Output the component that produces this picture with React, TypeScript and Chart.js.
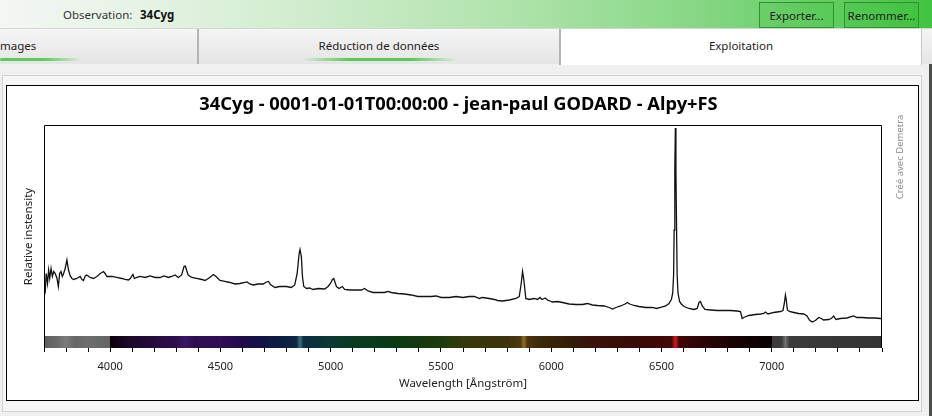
import React, { useEffect, useRef } from "react";
import { Chart, registerables } from "chart.js";

Chart.register(...registerables);

const FONT = '"Noto Sans", "Open Sans", sans-serif';

const TITLE = "34Cyg - 0001-01-01T00:00:00 - jean-paul GODARD - Alpy+FS";
const X_TITLE = "Wavelength [Ångström]";
const Y_TITLE = "Relative instensity";
const CREDIT = "Créé avec Demetra";

const X_MIN = 3700;
const X_MAX = 7500;
const X_STEP = 100;
const X_LABELS = [4000, 4500, 5000, 5500, 6000, 6500, 7000];
const Y_MIN = 0;
const Y_MAX = 4.46;

const WAVELENGTHS = [
  3700, 3706, 3710, 3716, 3721, 3726, 3732, 3738, 3744, 3751, 3759, 3765, 3771, 3777, 3783, 3789,
  3796, 3804, 3811, 3819, 3827, 3834, 3849, 3864, 3872, 3879, 3887, 3894, 3909, 3925, 3940, 3955,
  3970, 3977, 3985, 4008, 4030, 4053, 4068, 4083, 4091, 4103, 4110, 4121, 4136, 4158, 4181, 4204,
  4226, 4244, 4264, 4279, 4294, 4309, 4324, 4335, 4341, 4347, 4354, 4370, 4392, 4415, 4430, 4445,
  4460, 4468, 4480, 4498, 4520, 4543, 4566, 4588, 4611, 4621, 4633, 4649, 4671, 4694, 4709, 4718,
  4727, 4747, 4769, 4799, 4822, 4837, 4848, 4857, 4861, 4867, 4872, 4878, 4890, 4905, 4920, 4943,
  4973, 4988, 4999, 5008, 5014, 5020, 5026, 5038, 5053, 5063, 5086, 5116, 5139, 5154, 5169, 5192,
  5222, 5244, 5259, 5275, 5305, 5335, 5365, 5395, 5425, 5456, 5478, 5501, 5538, 5569, 5599, 5629,
  5652, 5674, 5689, 5719, 5742, 5757, 5780, 5810, 5840, 5855, 5864, 5870, 5876, 5885, 5900, 5923,
  5938, 5949, 5958, 5973, 5983, 6006, 6029, 6051, 6081, 6112, 6142, 6164, 6187, 6210, 6240, 6263,
  6278, 6293, 6315, 6335, 6345, 6356, 6376, 6398, 6428, 6459, 6477, 6496, 6519, 6534, 6545, 6551,
  6555, 6557.5, 6560.5, 6563, 6565.5, 6568.5, 6571, 6575, 6582, 6590, 6602, 6624, 6647, 6662, 6670, 6677,
  6685, 6697, 6723, 6753, 6783, 6813, 6843, 6858, 6866, 6873, 6896, 6926, 6949, 6964, 6971, 6983,
  7009, 7039, 7051, 7057, 7062, 7066, 7071, 7080, 7100, 7122, 7145, 7160, 7171, 7183, 7198, 7213,
  7225, 7235, 7258, 7270, 7281, 7291, 7311, 7341, 7371, 7386, 7409, 7439, 7469, 7492, 7500,
];

const INTENSITIES = [
  1.3, 1.16, 1.49, 1.29, 1.56, 1.39, 1.59, 1.43, 1.53, 1.49, 1.39, 1.23, 1.49, 1.53, 1.43, 1.49,
  1.59, 1.76, 1.56, 1.44, 1.39, 1.37, 1.39, 1.43, 1.37, 1.35, 1.44, 1.46, 1.41, 1.39, 1.43, 1.49,
  1.53, 1.49, 1.43, 1.43, 1.41, 1.39, 1.37, 1.36, 1.39, 1.47, 1.39, 1.41, 1.43, 1.41, 1.44, 1.41,
  1.41, 1.44, 1.41, 1.43, 1.46, 1.41, 1.46, 1.63, 1.64, 1.55, 1.46, 1.41, 1.39, 1.37, 1.35, 1.39,
  1.44, 1.47, 1.43, 1.35, 1.33, 1.31, 1.28, 1.29, 1.31, 1.32, 1.28, 1.26, 1.28, 1.28, 1.32, 1.33,
  1.27, 1.21, 1.23, 1.23, 1.21, 1.26, 1.49, 1.89, 1.97, 1.83, 1.43, 1.23, 1.19, 1.2, 1.17, 1.19,
  1.18, 1.23, 1.29, 1.37, 1.39, 1.31, 1.23, 1.19, 1.23, 1.17, 1.16, 1.16, 1.16, 1.19, 1.14, 1.11,
  1.11, 1.11, 1.13, 1.11, 1.09, 1.08, 1.06, 1.03, 1.03, 1.03, 1.04, 1.01, 1.01, 1.03, 1.01, 1.03,
  1.03, 0.99, 1.01, 0.99, 0.97, 0.95, 0.94, 0.96, 0.99, 1.03, 1.29, 1.53, 1.36, 0.99, 0.97, 0.99,
  0.97, 1.01, 0.97, 1.0, 0.96, 0.92, 0.93, 0.91, 0.88, 0.87, 0.87, 0.89, 0.86, 0.85, 0.84, 0.81,
  0.78, 0.81, 0.84, 0.88, 0.91, 0.88, 0.85, 0.83, 0.81, 0.81, 0.79, 0.81, 0.84, 0.89, 0.97, 1.1,
  1.46, 2.36, 3.56, 4.4, 3.56, 2.36, 1.46, 1.1, 0.93, 0.88, 0.83, 0.79, 0.77, 0.79, 0.91, 0.93,
  0.84, 0.77, 0.76, 0.75, 0.75, 0.75, 0.74, 0.73, 0.59, 0.61, 0.65, 0.67, 0.68, 0.69, 0.72, 0.68,
  0.71, 0.73, 0.75, 0.89, 1.06, 0.96, 0.76, 0.73, 0.71, 0.69, 0.68, 0.64, 0.56, 0.52, 0.55, 0.61,
  0.59, 0.56, 0.57, 0.59, 0.64, 0.57, 0.59, 0.6, 0.64, 0.61, 0.61, 0.6, 0.6, 0.59, 0.59,
];

// synthetic-spectrum colour strip under the plot
const BAR_WAVELENGTHS = [
  3700, 3760, 3800, 3840, 3900, 3999, 4000, 4100, 4300, 4340, 4380, 4500, 4600, 4700, 4800, 4845,
  4861, 4877, 4900, 5000, 5100, 5300, 5500, 5600, 5800, 5860, 5876, 5892, 5950, 6100, 6200, 6400,
  6545, 6563, 6581, 6700, 6850, 6999, 7000, 7045, 7062, 7080, 7200, 7500,
];
const BAR_COLORS = [
  "#5e5e5e", "#6a6a6a", "#7c7c7c", "#666666", "#6e6e6e", "#646464", "#0c000c", "#1c0a2c", "#2e0e4e",
  "#3c1666", "#2e0e50", "#300e58", "#220a4a", "#0f1448", "#0b2040", "#0c2a44", "#3a7282", "#0c2e42",
  "#0a3040", "#0a3836", "#093a22", "#0a3a12", "#1f3b0a", "#353a0a", "#3e3209", "#4a3a0e", "#8a7222",
  "#4a340c", "#3b2a09", "#361b08", "#3a1108", "#3a0908", "#420808", "#d81818", "#3e0606", "#2a0404",
  "#160202", "#060000", "#3a3a3a", "#3c3c3c", "#737373", "#3c3c3c", "#383838", "#343434",
];

const colorBarPlugin = {
  id: "colorBar",
  beforeDatasetsDraw(chart: any) {
    const { ctx, chartArea, scales } = chart;
    const x = scales.x;
    const x0 = x.getPixelForValue(X_MIN);
    const x1 = x.getPixelForValue(X_MAX);
    const g = ctx.createLinearGradient(x0, 0, x1, 0);
    BAR_WAVELENGTHS.forEach((w, i) => {
      const t = (x.getPixelForValue(w) - x0) / (x1 - x0);
      g.addColorStop(Math.min(1, Math.max(0, t)), BAR_COLORS[i]);
    });
    ctx.save();
    ctx.fillStyle = g;
    ctx.fillRect(chartArea.left, chartArea.bottom - 12, chartArea.right - chartArea.left, 12);
    ctx.restore();
  },
};

const framePlugin = {
  id: "frame",
  afterDraw(chart: any) {
    const { ctx, chartArea } = chart;
    const l = Math.round(chartArea.left) + 0.5;
    const t = Math.round(chartArea.top) + 0.5;
    const r = Math.round(chartArea.right) - 0.5;
    const b = Math.round(chartArea.bottom);
    ctx.save();
    ctx.strokeStyle = "#000";
    ctx.lineWidth = 1;
    ctx.beginPath();
    ctx.moveTo(l, b);
    ctx.lineTo(l, t);
    ctx.lineTo(r, t);
    ctx.lineTo(r, b);
    ctx.stroke();
    // credit text on the right margin
    ctx.translate(chartArea.right + 18, chartArea.top + 32);
    ctx.rotate(-Math.PI / 2);
    ctx.font = `9.5px ${FONT}`;
    ctx.fillStyle = "#8c8c8c";
    ctx.textAlign = "center";
    ctx.textBaseline = "middle";
    ctx.fillText(CREDIT, 0, 0);
    ctx.restore();
  },
};

function SpectrumChart() {
  const ref = useRef<HTMLCanvasElement | null>(null);
  useEffect(() => {
    const canvas = ref.current;
    if (!canvas) return;
    const chart = new Chart(canvas, {
      type: "line",
      data: {
        datasets: [
          {
            data: WAVELENGTHS.map((w, i) => ({ x: w, y: INTENSITIES[i] })),
            borderColor: "#111",
            borderWidth: 1.3,
            pointRadius: 0,
            tension: 0,
            fill: false,
          },
        ],
      },
      options: {
        animation: false,
        responsive: false,
        maintainAspectRatio: false,
        devicePixelRatio: 1,
        events: [],
        layout: { padding: 0, autoPadding: false },
        plugins: {
          legend: { display: false },
          tooltip: { enabled: false },
          title: {
            display: true,
            text: TITLE,
            color: "#000",
            font: { family: FONT, size: 18.3, weight: "bold", lineHeight: 1.2 },
            padding: { top: 8.0, bottom: 9.0 },
          },
        },
        scales: {
          x: {
            type: "linear",
            min: X_MIN,
            max: X_MAX,
            afterFit: (s: any) => {
              s.height = 52;
            },
            ticks: {
              stepSize: X_STEP,
              autoSkip: false,
              maxRotation: 0,
              minRotation: 0,
              padding: 8,
              color: "#222",
              font: { family: FONT, size: 11 },
              callback: (v: any) => (X_LABELS.includes(Number(v)) ? String(v) : ""),
            },
            grid: { drawOnChartArea: false, drawTicks: true, tickLength: 4, color: "#000", lineWidth: 1 },
            border: { display: false },
            title: {
              display: true,
              text: X_TITLE,
              color: "#222",
              font: { family: FONT, size: 11.5, lineHeight: 1.2 },
              padding: { top: 0, bottom: 9.5 },
            },
          },
          y: {
            type: "linear",
            min: Y_MIN,
            max: Y_MAX,
            afterFit: (s: any) => {
              s.width = 44;
            },
            ticks: { display: false },
            grid: { display: false },
            border: { display: false },
            title: {
              display: true,
              text: Y_TITLE,
              color: "#222",
              font: { family: FONT, size: 11.5, lineHeight: 1.2 },
              padding: { top: 21.6, bottom: 0 },
            },
          },
          y2: {
            type: "linear",
            position: "right",
            display: true,
            afterFit: (s: any) => {
              s.width = 35;
            },
            ticks: { display: false },
            grid: { display: false },
            border: { display: false },
          },
        },
      } as any,
      plugins: [colorBarPlugin, framePlugin],
    });
    return () => chart.destroy();
  }, []);
  return (
    <canvas
      ref={ref}
      width={917}
      height={314}
      style={{ position: "absolute", left: 0, top: 86, width: 917, height: 314 }}
    />
  );
}

const abs = (s: React.CSSProperties): React.CSSProperties => ({ position: "absolute", ...s });

export default function App() {
  return (
    <div
      style={abs({
        left: 0,
        top: 0,
        width: 932,
        height: 416,
        overflow: "hidden",
        background: "#f0f0f0",
        fontFamily: FONT,
        color: "#222",
      })}
    >
      {/* top observation bar */}
      <div
        style={abs({
          left: 0,
          top: 0,
          width: 932,
          height: 29,
          background:
            "linear-gradient(to right, #f4f6f4 0%, #e6f3e5 15%, #cdebca 35%, #afe3ab 55%, #86d784 75%, #5ecd5e 90%, #41c441 100%)",
          borderBottom: "1px solid #cfd9cf",
          boxSizing: "border-box",
        })}
      >
        <span style={abs({ left: 63, top: 7, fontSize: 11.5, color: "#333" })}>Observation:</span>
        <span style={abs({ left: 140, top: 7, fontSize: 11.5, fontWeight: "bold", color: "#111" })}>34Cyg</span>
        <div
          style={abs({
            left: 759,
            top: 2,
            width: 75,
            height: 26,
            boxSizing: "border-box",
            border: "1px solid #2f922f",
            background: "rgba(40,170,40,0.12)",
            fontSize: 11.5,
            color: "#222",
            display: "flex",
            alignItems: "center",
            justifyContent: "center",
          })}
        >
          Exporter...
        </div>
        <div
          style={abs({
            left: 844,
            top: 2,
            width: 75,
            height: 26,
            boxSizing: "border-box",
            border: "1px solid #2f922f",
            background: "rgba(40,170,40,0.12)",
            fontSize: 11.5,
            color: "#222",
            display: "flex",
            alignItems: "center",
            justifyContent: "center",
          })}
        >
          Renommer...
        </div>
      </div>

      {/* tab row */}
      <div
        style={abs({
          left: 0,
          top: 29,
          width: 932,
          height: 35,
          background: "linear-gradient(#f5f5f5, #e5e5e5)",
        })}
      />
      <div style={abs({ left: 197, top: 29, width: 2, height: 35, background: "#b4b4b4" })} />
      <div
        style={abs({
          left: 559,
          top: 29,
          width: 363,
          height: 36,
          background: "#fff",
          borderLeft: "2px solid #b4b4b4",
          borderRight: "1px solid #c8c8c8",
          boxSizing: "border-box",
        })}
      />
      <div style={abs({ left: 0, top: 38, fontSize: 11.5 })}>mages</div>
      <div style={abs({ left: 199, top: 38, width: 360, textAlign: "center", fontSize: 11.5 })}>Réduction de données</div>
      <div style={abs({ left: 561, top: 38, width: 360, textAlign: "center", fontSize: 11.5 })}>Exploitation</div>
      <div
        style={abs({
          left: 0,
          top: 58,
          width: 82,
          height: 3,
          borderRadius: 2,
          background: "linear-gradient(to right, rgba(80,200,80,0.9), rgba(80,200,80,0.9) 55%, rgba(80,200,80,0))",
        })}
      />
      <div
        style={abs({
          left: 302,
          top: 58,
          width: 155,
          height: 3,
          borderRadius: 2,
          background:
            "linear-gradient(to right, rgba(80,200,80,0), rgba(80,200,80,0.95) 30%, rgba(80,200,80,0.95) 70%, rgba(80,200,80,0))",
        })}
      />

      {/* content panel */}
      <div
        style={abs({
          left: 2,
          top: 75,
          width: 920,
          height: 337,
          boxSizing: "border-box",
          border: "1px solid #d2d2d2",
          background: "#f6f6f6",
        })}
      />
      <div style={abs({ left: 929, top: 64, width: 3, height: 352, background: "#4a4f4a" })} />

      {/* chart frame */}
      <div
        style={abs({
          left: 6,
          top: 85,
          width: 913,
          height: 316,
          boxSizing: "border-box",
          border: "1px solid #000",
          background: "#fff",
        })}
      />
      <SpectrumChart />
    </div>
  );
}
